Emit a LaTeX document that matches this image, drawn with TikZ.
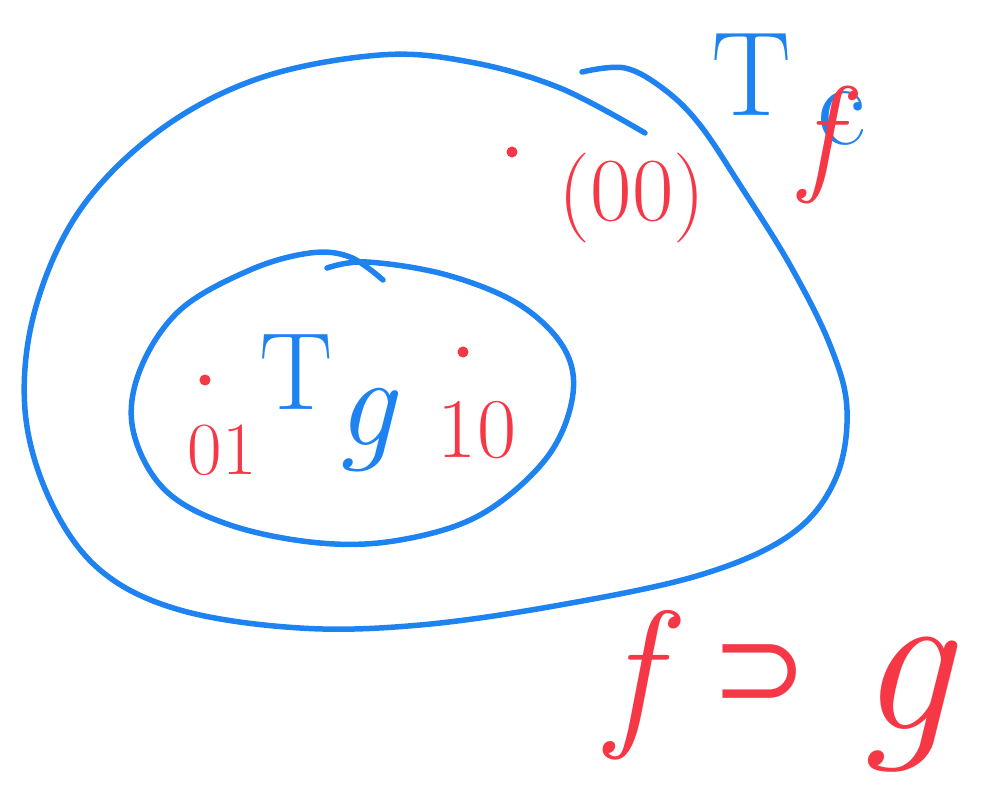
\documentclass[tikz,border=0pt]{standalone}
\definecolor{SketchBlue}{RGB}{30, 130, 240}
\definecolor{SketchRed}{RGB}{245, 55, 70}
\usepackage{fontspec}
\newfontfamily\symfont{DejaVu Sans}
\usepackage{tikz}
\usetikzlibrary{positioning, calc}

\begin{document}
\begin{tikzpicture}[x=1pt, y=-1pt, line cap=round, line join=round,
  stroke/.style={line width=5.5pt, SketchBlue},
  pt/.style={circle, draw=SketchRed, fill=SketchRed, line width=2pt, minimum size=9pt, inner sep=0pt},
  lbl/.style={inner sep=0pt}]
\useasboundingbox (0,0) rectangle (992,798);
% outer set T_f
\draw[stroke] plot[smooth, tension=0.6] coordinates {(582,72) (625,68) (665,90) (700,125)
  (740,185) (790,265) (830,345) (847,410) (835,480) (790,535) (700,575) (560,605)
  (420,625) (300,628) (180,610) (100,570) (50,500) (25,410) (35,310) (80,210)
  (160,130) (260,78) (380,55) (470,62) (560,88) (645,133)};
% inner set T_g
\draw[stroke] plot[smooth, tension=0.6] coordinates {(327,268) (367,262) (447,275)
  (520,305) (565,350) (572,400) (545,460) (480,515) (400,540) (320,543) (230,525)
  (165,490) (133,430) (140,370) (180,310) (250,270) (310,253) (350,257) (383,280)};
% labels of the sets
\node[lbl, text=SketchBlue, font=\fontsize{120}{120}\selectfont] (Tf) at (752,75) {T};
\node[lbl, text=SketchBlue, font=\fontsize{120}{120}\selectfont] (Tfc) at (842,118) {c};
\node[lbl, text=SketchRed, font=\fontsize{130}{130}\selectfont\itshape] (Tff) at (820,145) {f};
\node[lbl, text=SketchBlue, font=\fontsize{110}{110}\selectfont] (Tg) at (296,372) {T};
\node[lbl, text=SketchBlue, font=\fontsize{130}{130}\selectfont\itshape] (Tgg) at (366,430) {g};
% points
\node[pt] (p00) at (512,152) {};
\node[lbl, text=SketchRed, font=\fontsize{90}{90}\selectfont] (l00) at (632,198) {(00)};
\node[pt] (p01) at (205,380) {};
\node[lbl, text=SketchRed, font=\fontsize{75}{75}\selectfont] (l01) at (222,450) {01};
\node[pt] (p10) at (463,352) {};
\node[lbl, text=SketchRed, font=\fontsize{85}{85}\selectfont] (l10) at (477,430) {10};
% f contains g
\node[lbl, text=SketchRed, font=\fontsize{165}{165}\selectfont\itshape] (relf) at (632,685) {f};
\node[lbl, text=SketchRed, font=\fontsize{115}{115}\selectfont\symfont] (relsup) at (760,676) {⊃};
\node[lbl, text=SketchRed, font=\fontsize{210}{210}\selectfont\itshape] (relg) at (905,705) {g};
\end{tikzpicture}
\end{document}
